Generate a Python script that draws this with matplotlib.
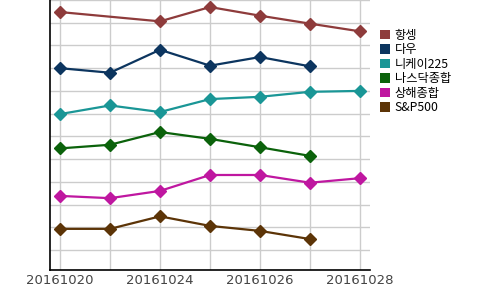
import numpy as np
import matplotlib
matplotlib.use("Agg")
import matplotlib.pyplot as plt
from matplotlib.patches import Patch

plt.rcParams['font.family'] = ['Noto Sans CJK KR', 'DejaVu Sans']

# 날짜 (거래일)
dates = ['20161020', '20161021', '20161024', '20161025',
         '20161026', '20161027', '20161028']
tick_labels = ['20161020', '', '20161024', '', '20161026', '', '20161028']

# 지수별 값 (상대 위치)
hangseng = [11.47, np.nan, 11.06, 11.69, 11.31, 10.96, 10.62]
dow = [9.00, 8.80, 9.81, 9.11, 9.49, 9.08, np.nan]
nikkei = [6.98, 7.36, 7.07, 7.64, 7.74, 7.96, 8.00]
nasdaq = [5.47, 5.63, 6.19, 5.89, 5.52, 5.14, np.nan]
shanghai = [3.38, 3.28, 3.60, 4.30, 4.30, 3.96, 4.16]
sp500 = [1.93, 1.93, 2.48, 2.06, 1.84, 1.48, np.nan]

names = ['항셍', '다우', '니케이225', '나스닥종합', '상해종합', 'S&P500']
series = [hangseng, dow, nikkei, nasdaq, shanghai, sp500]
colors = ['#8e3b3b', '#0c355f', '#1a9696', '#0b620b', '#bf17a0', '#5c3407']

fig = plt.figure(figsize=(5, 2.9), dpi=100)
ax = fig.add_axes([0.1, 0.069, 0.64, 0.931])

x = np.arange(len(dates))
for vals, c in zip(series, colors):
    v = np.array(vals, dtype=float)
    m = ~np.isnan(v)
    # 항셍은 21일 휴장 -> 선은 이어서
    ax.plot(x[m], v[m], color=c, lw=1.6, marker='D', markersize=6.5, zorder=3)

ax.set_xlim(-0.2, 6.2)
ax.set_ylim(0.12, 12.0)
ax.set_xticks(x)
ax.set_xticklabels(tick_labels, fontsize=9.5, color='#444444',
                   family='DejaVu Sans')
ax.set_yticks(np.arange(1, 13))
ax.set_yticklabels([])
ax.tick_params(axis='both', length=0, pad=3)
ax.grid(True, color='#cccccc', lw=1)
ax.set_axisbelow(True)
for s in ['top', 'right']:
    ax.spines[s].set_visible(False)
ax.spines['left'].set_color('black')
ax.spines['bottom'].set_color('black')
ax.spines['left'].set_linewidth(1.2)
ax.spines['bottom'].set_linewidth(1.2)

handles = [Patch(facecolor=c, edgecolor='none') for c in colors]
ax.legend(handles, names, loc='upper left', bbox_to_anchor=(1.005, 0.925),
          frameon=False, fontsize=8.8, handlelength=0.8, handleheight=0.8,
          handletextpad=0.4, labelspacing=0.12, borderaxespad=0.3)

fig.savefig('out.png', dpi=100)
